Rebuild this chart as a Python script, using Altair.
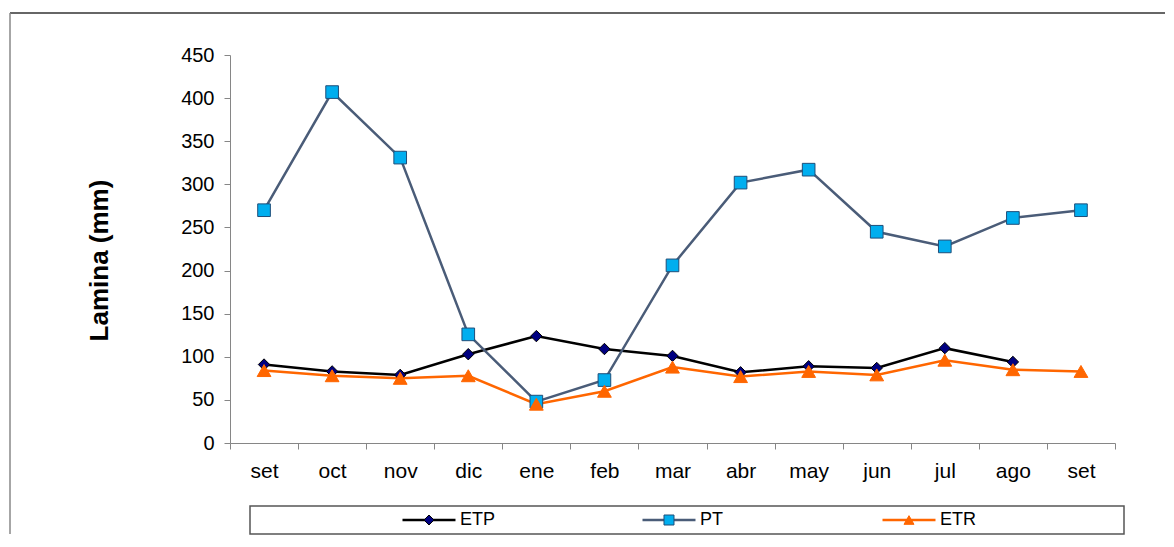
import altair as alt
import pandas as pd

FONT = "Liberation Sans"

meses = ["set", "oct", "nov", "dic", "ene", "feb", "mar", "abr", "may", "jun", "jul", "ago", "set"]
etp = [91, 83, 79, 103, 124, 109, 101, 82, 89, 87, 110, 94, None]
pt = [270, 407, 331, 126, 48, 73, 206, 302, 317, 245, 228, 261, 270]
etr = [84, 78, 75, 78, 45, 60, 88, 77, 83, 79, 96, 85, 83]
series = ["ETP", "PT", "ETR"]
y_ticks = [0, 50, 100, 150, 200, 250, 300, 350, 400, 450]

keys = [f"{m}_{i}" for i, m in enumerate(meses)]
rows = []
for name, vals in zip(series, [etp, pt, etr]):
    for k, v in zip(keys, vals):
        if v is not None:
            rows.append({"mes": k, "serie": name, "valor": v})
df = pd.DataFrame(rows)

color_scale = alt.Scale(domain=series, range=["#000000", "#4A5C78", "#FF6600"])
fill_scale = alt.Scale(domain=series, range=["#000080", "#00AEEF", "#FF6600"])
stroke_scale = alt.Scale(domain=series, range=["#000000", "#1F4E79", "#FF6600"])
shape_scale = alt.Scale(domain=series, range=["diamond", "square", "triangle-up"])
size_scale = alt.Scale(domain=series, range=[130, 190, 180])

x_enc = alt.X(
    "mes:N",
    sort=keys,
    scale=alt.Scale(domain=keys, paddingInner=0, paddingOuter=0),
    axis=alt.Axis(
        title=None,
        labelExpr="split(datum.label, '_')[0]",
        labelAngle=0,
        tickBand="extent",
        labelPadding=11,
        labelFontSize=21,
    ),
)
y_enc = alt.Y(
    "valor:Q",
    scale=alt.Scale(domain=[0, 450], nice=False),
    axis=alt.Axis(
        values=y_ticks,
        title="Lamina (mm)",
        titleFontSize=26,
        titleFontWeight="bold",
        titlePadding=68,
        titleY=205,
        labelPadding=10,
        labelFontSize=20,
    ),
)

lines = alt.Chart(df).mark_line(strokeWidth=2.5).encode(
    x=x_enc,
    y=y_enc,
    color=alt.Color("serie:N", scale=color_scale, legend=None),
)
points = alt.Chart(df).mark_point(filled=True, opacity=1, strokeWidth=1).encode(
    x=x_enc,
    y=y_enc,
    fill=alt.Fill("serie:N", scale=fill_scale, legend=None),
    stroke=alt.Stroke("serie:N", scale=stroke_scale, legend=None),
    shape=alt.Shape("serie:N", scale=shape_scale, legend=None),
    size=alt.Size("serie:N", scale=size_scale, legend=None),
)

# outer chart frame (decoration)
frame_top = alt.Chart(pd.DataFrame({"a": [0]})).mark_rule(color="#333333", strokeWidth=1.5).encode(
    x=alt.value(-220), x2=alt.value(935), y=alt.value(-42)
)
frame_left = alt.Chart(pd.DataFrame({"a": [0]})).mark_rule(color="#888888", strokeWidth=1.5).encode(
    x=alt.value(-220), y=alt.value(-42), y2=alt.value(479)
)

main = alt.layer(frame_top, frame_left, lines, points).properties(width=885, height=388)

# legend panel
leg_df = pd.DataFrame({"serie": series})
lx = alt.X("serie:N", sort=series,
           scale=alt.Scale(type="point", domain=series, padding=0.8208, align=0.4543), axis=None)
leg_line = alt.Chart(leg_df).mark_point(shape="stroke", size=2809, strokeWidth=2.5, filled=False, opacity=1).encode(
    x=lx, color=alt.Color("serie:N", scale=color_scale, legend=None)
)
leg_mark = alt.Chart(leg_df).mark_point(filled=True, size=100, opacity=1, strokeWidth=1).encode(
    x=lx,
    fill=alt.Fill("serie:N", scale=fill_scale, legend=None),
    stroke=alt.Stroke("serie:N", scale=stroke_scale, legend=None),
    shape=alt.Shape("serie:N", scale=shape_scale, legend=None),
)
leg_text = alt.Chart(leg_df).mark_text(align="left", baseline="middle", dx=31, fontSize=18, font=FONT, color="black").encode(
    x=lx, text="serie:N"
)
legend_panel = alt.layer(leg_line, leg_mark, leg_text).properties(
    width=874, height=28, view=alt.ViewBackground(stroke="#555555", strokeWidth=1.5)
)
spacer = alt.Chart(leg_df).mark_point(opacity=0).properties(width=19, height=28)
legend_row = alt.hconcat(spacer, legend_panel, spacing=0)

chart = alt.vconcat(main, legend_row, spacing=63, bounds="flush").properties(
    padding={"left": 1, "top": 4, "right": 0, "bottom": 0}
).configure_view(stroke=None).configure_axis(
    labelFont=FONT,
    titleFont=FONT,
    labelColor="black",
    titleColor="black",
    domainColor="#868686",
    tickColor="#868686",
    tickSize=6,
    grid=False,
)

chart.save("out.html", embed_options={"renderer": "svg", "actions": False})
